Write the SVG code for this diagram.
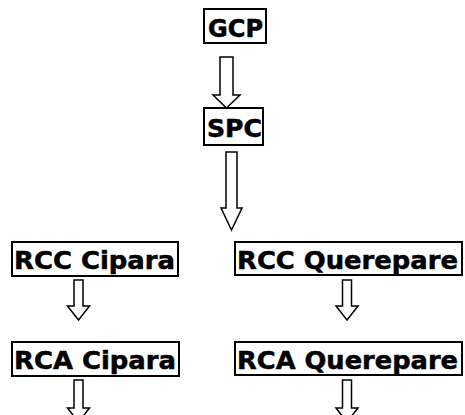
<svg xmlns="http://www.w3.org/2000/svg" width="465" height="415" viewBox="0 0 465 415">
<style>
.box{fill:#fff;stroke:#000;stroke-width:2}
.lbl{font-family:"DejaVu Sans",Verdana,sans-serif;font-weight:bold;font-size:24px;fill:#000;stroke:#000;stroke-width:0.5}
.arr{fill:#fff;stroke:#000;stroke-width:1.5;stroke-linejoin:miter}
</style>
<rect width="465" height="415" fill="#fff"/>
<g id="connectors">
<polygon class="arr" points="220,57 233,57 233,95 240,95 226.5,108 213,95 220,95 220,57"/>
<polygon class="arr" points="226,152 237,152 237,208 242,208 231.5,230 221,208 226,208 226,152"/>
<polygon class="arr" points="74,280 83,280 83,306 89.5,306 78.5,320 67.5,306 74,306"/>
<polygon class="arr" points="342.5,280 351.5,280 351.5,306 358,306 347,320 336,306 342.5,306"/>
<polygon class="arr" points="74,380 83,380 83,408 89.5,408 78.5,422 67.5,408 74,408"/>
<polygon class="arr" points="342.5,380 351.5,380 351.5,408 358,408 347,422 336,408 342.5,408"/>
</g>
<g id="gcp">
<rect class="box" x="204" y="9" width="62" height="34"/>
<text class="lbl" x="208" y="37" textLength="55" lengthAdjust="spacingAndGlyphs">GCP</text>
</g>
<g id="spc">
<rect class="box" x="204" y="108" width="59" height="37"/>
<text class="lbl" x="207" y="137" textLength="55" lengthAdjust="spacingAndGlyphs">SPC</text>
</g>
<g id="rcc-cipara">
<rect class="box" x="12" y="242" width="166" height="34"/>
<text class="lbl" x="14" y="269" textLength="161" lengthAdjust="spacingAndGlyphs">RCC Cipara</text>
</g>
<g id="rcc-querepare">
<rect class="box" x="235" y="242" width="227" height="33"/>
<text class="lbl" x="237" y="269" textLength="221" lengthAdjust="spacingAndGlyphs">RCC Querepare</text>
</g>
<g id="rca-cipara">
<rect class="box" x="12" y="342" width="167" height="34"/>
<text class="lbl" x="14" y="369" textLength="162" lengthAdjust="spacingAndGlyphs">RCA Cipara</text>
</g>
<g id="rca-querepare">
<rect class="box" x="235" y="342" width="227" height="33"/>
<text class="lbl" x="237" y="369" textLength="221" lengthAdjust="spacingAndGlyphs">RCA Querepare</text>
</g>
</svg>
